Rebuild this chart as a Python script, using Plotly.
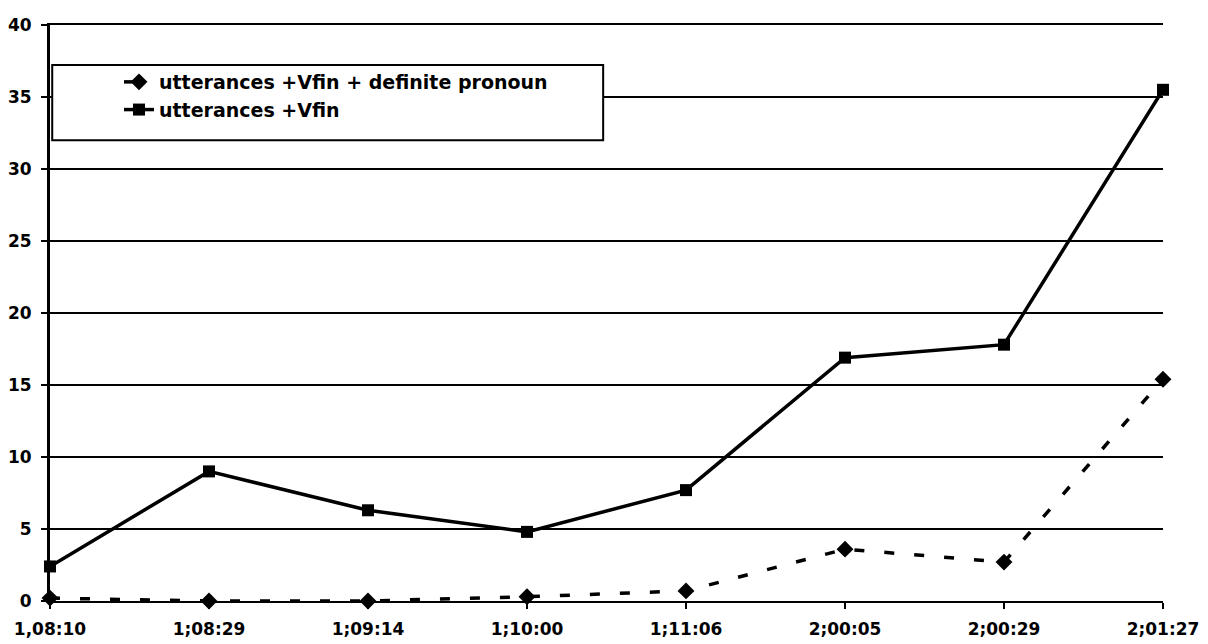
import plotly.graph_objects as go

categories = ["1,08:10", "1;08:29", "1;09:14", "1;10:00", "1;11:06", "2;00:05", "2;00:29", "2;01:27"]
vfin_def_pron = [0.2, 0.0, 0.0, 0.3, 0.7, 3.6, 2.7, 15.4]
vfin = [2.4, 9.0, 6.3, 4.8, 7.7, 16.9, 17.8, 35.5]
y_ticks = [0, 5, 10, 15, 20, 25, 30, 35, 40]

FONT = "DejaVu Sans, Liberation Sans, Arial, sans-serif"

fig = go.Figure()
fig.add_trace(go.Scatter(
    x=list(range(len(categories))), y=vfin_def_pron, mode="lines+markers",
    name="utterances +Vfin + definite pronoun",
    line=dict(color="black", width=3.5, dash="10px,20px"),
    marker=dict(symbol="diamond", size=13, color="black"),
    cliponaxis=False,
))
fig.add_trace(go.Scatter(
    x=list(range(len(categories))), y=vfin, mode="lines+markers",
    name="utterances +Vfin",
    line=dict(color="black", width=3.5),
    marker=dict(symbol="square", size=12, color="black"),
    cliponaxis=False,
))

fig.add_shape(type="rect", xref="paper", yref="paper", x0=0.002, x1=0.497, y0=0.800, y1=0.9306,
              line=dict(color="black", width=2), fillcolor="white", layer="above")

fig.update_layout(
    width=1208, height=644,
    margin=dict(l=42, r=53, t=17, b=51),
    paper_bgcolor="white", plot_bgcolor="white",
    font=dict(family=FONT, size=17, color="black"),
    showlegend=True,
    legend=dict(x=0.062, y=0.934, xanchor="left", yanchor="top", bgcolor="rgba(0,0,0,0)",
                borderwidth=0, font=dict(size=19, family=FONT, weight="bold"),
                tracegroupgap=0),
    xaxis=dict(tickmode="array", tickvals=list(range(len(categories))), ticktext=categories,
               range=[0, len(categories) - 1], showgrid=False, zeroline=False, automargin=False,
               showline=True, mirror=True, linecolor="black", linewidth=2,
               ticks="outside", ticklen=6, tickwidth=2, tickcolor="black",
               ticklabelstandoff=6,
               tickfont=dict(size=17, family=FONT, weight="bold")),
    yaxis=dict(range=[0, 40], tickvals=y_ticks, showgrid=True, gridcolor="black", gridwidth=2,
               zeroline=True, zerolinecolor="black", zerolinewidth=2, automargin=False,
               showline=True, linecolor="black", linewidth=3, ticks="outside", ticklen=6,
               tickwidth=2, tickcolor="black", ticklabelstandoff=6,
               tickfont=dict(size=17, family=FONT, weight="bold")),
)

fig.write_html("out.html")
